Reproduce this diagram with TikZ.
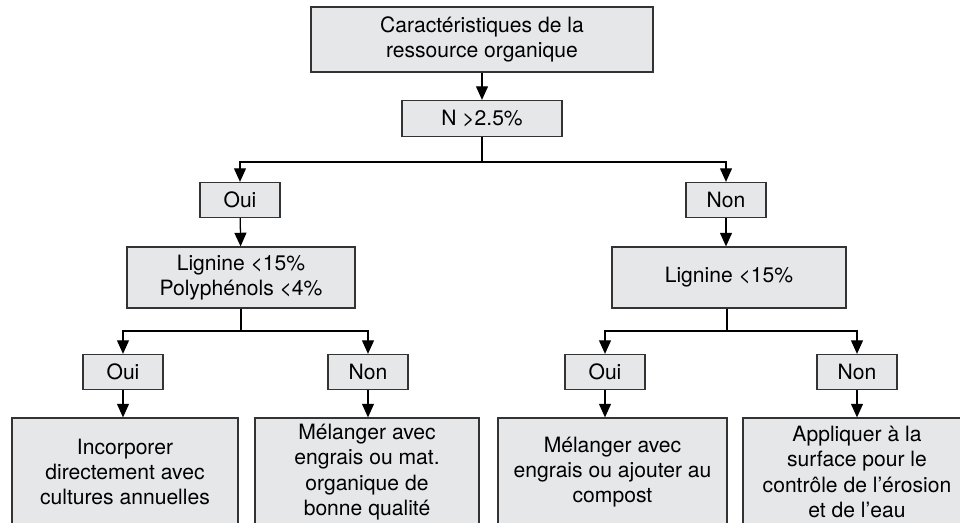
\documentclass[tikz,border=0pt]{standalone}
\usepackage{fontspec}
\setmainfont{TeX Gyre Heros}
\usetikzlibrary{arrows.meta}
\definecolor{boxgray}{HTML}{E6E7E8}
\definecolor{edgegray}{HTML}{333333}
\begin{document}
\begin{tikzpicture}[x=0.025cm,y=-0.025cm,
    box/.style={draw=edgegray,fill=boxgray,line width=0.9pt,inner sep=0pt,align=center,
      font=\fontsize{15}{18}\selectfont},
    answer/.style={box,minimum width=2cm,minimum height=0.875cm},
    arr/.style={-{Triangle[length=3.4mm,width=3mm]}}]
  \clip (0,0) rectangle (960,522);
  \fill[white] (0,0) rectangle (960,522);
  \draw
    (482,39.5) node[box,minimum width=8.55cm,minimum height=1.625cm] (res){Caractéristiques de la\\ressource organique}
    (482,118.5) node[box,minimum width=4cm,minimum height=0.9cm] (azote){N >2.5\%}
    (240,200) node[answer] (oui){Oui}
    (726,200) node[answer] (non){Non}
    (241,277.5) node[box,minimum width=5.7cm,minimum height=1.525cm] (ligA){Lignine <15\%\\Polyphénols <4\%}
    (729,277.5) node[box,minimum width=5.85cm,minimum height=1.525cm] (ligB){Lignine <15\%}
    (123,372) node[answer] (ouiA){Oui}
    (368,372) node[answer] (nonA){Non}
    (605,372) node[answer] (ouiB){Oui}
    (857,372) node[answer] (nonB){Non}
    (125,472) node[box,minimum width=5.65cm,minimum height=2.7cm] (incorp){Incorporer\\directement avec\\cultures annuelles}
    (367,472) node[box,minimum width=5.6cm,minimum height=2.7cm] (melA){Mélanger avec\\engrais ou mat.\\organique de\\bonne qualité}
    (612.5,472) node[box,minimum width=5.725cm,minimum height=2.7cm] (melB){Mélanger avec\\engrais ou ajouter au\\compost}
    (857,472) node[box,minimum width=5.7cm,minimum height=2.7cm] (surf){Appliquer à la\\surface pour le\\contrôle de l’érosion\\et de l’eau};
  \coordinate (split) at (482,162);
  \coordinate (splitA) at (241,331);
  \coordinate (splitB) at (727,331);
  \begin{scope}[line width=0.9pt]
    \draw[arr] (res) to (azote);
    \draw (azote) to (split);
    \draw[arr] (split) -| (oui);
    \draw[arr] (split) -| (non);
    \draw[arr] (oui) to (ligA);
    \draw[arr] (non.south) to (non.south |- ligB.north);
    \draw (ligA) to (splitA);
    \draw (splitB |- ligB.south) to (splitB);
    \draw[arr] (splitA) -| (ouiA);
    \draw[arr] (splitA) -| (nonA);
    \draw[arr] (splitB) -| (ouiB);
    \draw[arr] (splitB) -| (nonB);
    \draw[arr] (ouiA.south) to (ouiA.south |- incorp.north);
    \draw[arr] (nonA.south) to (nonA.south |- melA.north);
    \draw[arr] (ouiB.south) to (ouiB.south |- melB.north);
    \draw[arr] (nonB.south) to (nonB.south |- surf.north);
  \end{scope}
\end{tikzpicture}
\end{document}
